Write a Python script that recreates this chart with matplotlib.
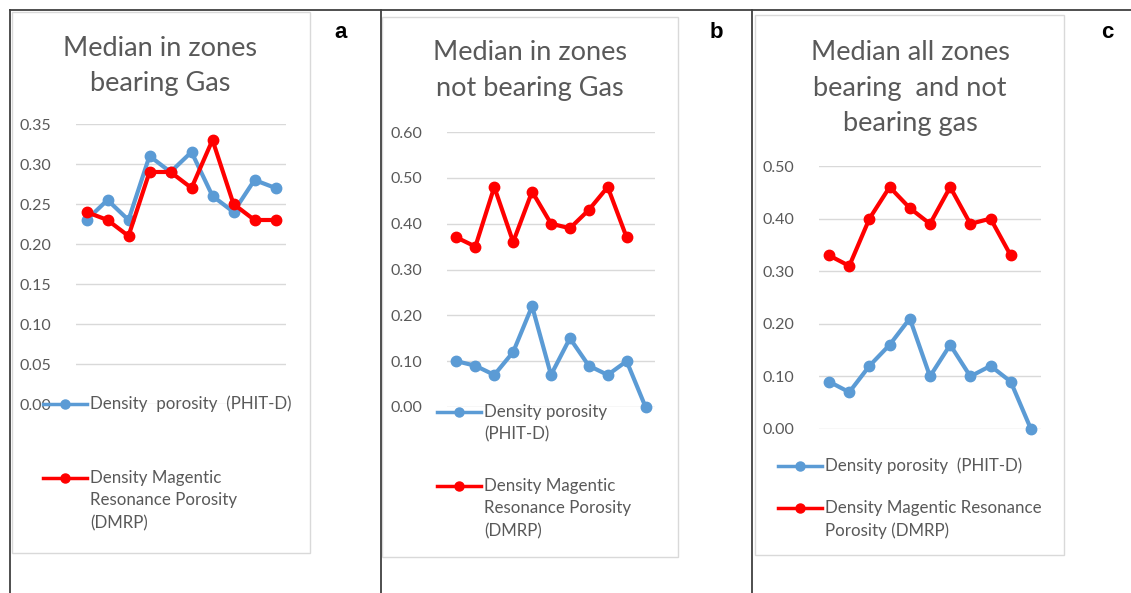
import matplotlib.pyplot as plt
from matplotlib.lines import Line2D
from matplotlib.patches import Rectangle

W, H = 1131, 593

# ---- data ----
titles = ["Median in zones\nbearing Gas",
          "Median in zones\nnot bearing Gas",
          "Median all zones\nbearing  and not\nbearing gas"]
panel_labels = ["a", "b", "c"]

phit_a = [0.23, 0.255, 0.23, 0.31, 0.29, 0.315, 0.26, 0.24, 0.28, 0.27]
dmrp_a = [0.24, 0.23, 0.21, 0.29, 0.29, 0.27, 0.33, 0.25, 0.23, 0.23]

phit_b = [0.10, 0.09, 0.07, 0.12, 0.22, 0.07, 0.15, 0.09, 0.07, 0.10, 0.00]
dmrp_b = [0.37, 0.35, 0.48, 0.36, 0.47, 0.40, 0.39, 0.43, 0.48, 0.37]

phit_c = [0.09, 0.07, 0.12, 0.16, 0.21, 0.10, 0.16, 0.10, 0.12, 0.09, 0.00]
dmrp_c = [0.33, 0.31, 0.40, 0.46, 0.42, 0.39, 0.46, 0.39, 0.40, 0.33]

yticks_a = [0.00, 0.05, 0.10, 0.15, 0.20, 0.25, 0.30, 0.35]
yticks_b = [0.00, 0.10, 0.20, 0.30, 0.40, 0.50, 0.60]
yticks_c = [0.00, 0.10, 0.20, 0.30, 0.40, 0.50]

legend_a = ["Density  porosity  (PHIT-D)",
            "Density Magentic\nResonance Porosity\n(DMRP)"]
legend_b = ["Density porosity\n(PHIT-D)",
            "Density Magentic\nResonance Porosity\n(DMRP)"]
legend_c = ["Density porosity  (PHIT-D)",
            "Density Magentic Resonance\nPorosity (DMRP)"]

BLUE = "#5B9BD5"
RED = "#FF0000"
GRID = "#D9D9D9"
TEXT = "#595959"

plt.rcParams['font.family'] = ['Lato', 'DejaVu Sans']

fig = plt.figure(figsize=(W / 100, H / 100), dpi=100)


def fx(x):
    return x / W


def fy(y):
    return 1 - y / H


def add_axes_px(left, top, right, bottom):
    return fig.add_axes([fx(left), fy(bottom), (right - left) / W, (bottom - top) / H])


def draw_panel(box, axbox, title, title_x, title_y, label, label_x,
               phit, dmrp, yticks, legend, leg_x, leg_y):
    # light chart-area border
    l, t, r, b = box
    fig.add_artist(Rectangle((fx(l), fy(b)), (r - l) / W, (b - t) / H,
                             transform=fig.transFigure, fill=False,
                             edgecolor=GRID, lw=1.0))
    ax = add_axes_px(*axbox)
    n = max(len(phit), len(dmrp))
    ax.plot(range(len(phit)), phit, color=BLUE, lw=3.0, marker='o', ms=7.5,
            zorder=3, clip_on=False)
    ax.plot(range(len(dmrp)), dmrp, color=RED, lw=3.0, marker='o', ms=7.5,
            zorder=4, clip_on=False)
    ax.set_xlim(-0.5, n - 0.5)
    ax.set_ylim(yticks[0], yticks[-1])
    ax.set_yticks(yticks)
    ax.set_yticklabels([f"{v:.2f}" for v in yticks])
    ax.set_xticks([])
    ax.grid(axis='y', color=GRID, lw=1.0)
    ax.set_axisbelow(True)
    ax.tick_params(axis='y', length=0, pad=18, labelsize=11.5, labelcolor=TEXT)
    for s in ax.spines.values():
        s.set_visible(False)
    ax.patch.set_alpha(0)

    # title
    for i, line in enumerate(title.split("\n")):
        fig.text(fx(title_x), fy(title_y + i * 35.5), line, ha='center', va='center',
                 fontsize=19.5, color=TEXT)
    # panel letter
    fig.text(fx(label_x), fy(32), label, ha='center', va='center', fontsize=16,
             fontweight='bold', family='Liberation Sans', color='black')

    # legend (Excel style, no frame)
    for (lbl, y), col in zip(zip(legend, leg_y), [BLUE, RED]):
        fig.add_artist(Line2D([fx(leg_x), fx(leg_x + 44)], [fy(y), fy(y)],
                              transform=fig.transFigure, color=col, lw=2.5))
        fig.add_artist(Line2D([fx(leg_x + 22)], [fy(y)], transform=fig.transFigure,
                              color=col, marker='o', ms=6.5, lw=0))
        for j, line in enumerate(lbl.split("\n")):
            fig.text(fx(leg_x + 47), fy(y + j * 22.5), line, ha='left', va='center',
                     fontsize=12.2, color=TEXT)
    return ax


# outer frame lines of the composite figure
frame_kw = dict(transform=fig.transFigure, color='#404040', lw=1.3)
fig.add_artist(Line2D([fx(10), fx(W)], [fy(10), fy(10)], **frame_kw))
for xv in [10, 381, 752]:
    fig.add_artist(Line2D([fx(xv), fx(xv)], [fy(10), fy(H)], **frame_kw))

draw_panel((12, 12, 310, 553), (76, 124, 286, 404), titles[0], 160, 48,
           panel_labels[0], 341, phit_a, dmrp_a, yticks_a, legend_a, 43, [404, 478])
draw_panel((382, 17, 678, 557), (447, 132, 655, 407), titles[1], 530, 53,
           panel_labels[1], 716, phit_b, dmrp_b, yticks_b, legend_b, 437, [412, 486])
draw_panel((755, 15, 1064, 555), (819, 166, 1041, 429), titles[2], 910, 53,
           panel_labels[2], 1107, phit_c, dmrp_c, yticks_c, legend_c, 778, [466, 508])

fig.savefig("out.png", dpi=100)
